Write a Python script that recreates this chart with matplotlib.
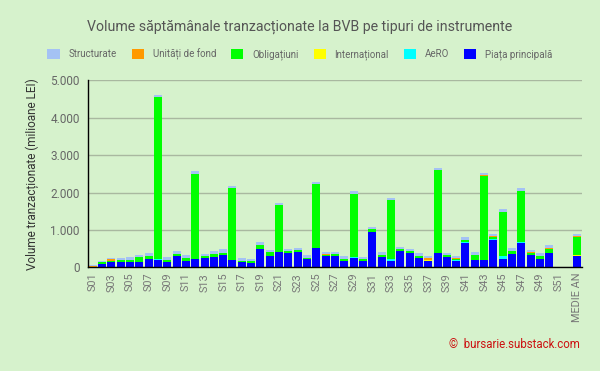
import matplotlib
matplotlib.use("Agg")
import matplotlib.pyplot as plt
from matplotlib.patches import Patch
from matplotlib.ticker import FuncFormatter, MultipleLocator
import numpy as np

plt.rcParams['font.family'] = ['Roboto', 'DejaVu Sans']

categories = [f"S{i:02d}" for i in range(1, 53)] + ["MEDIE AN"]

piata = [10, 100, 150, 150, 150, 150, 230, 195, 150, 310, 180, 230, 260, 275, 330, 195, 145, 115,
         490, 305, 410, 385, 410, 225, 515, 305, 305, 170, 250, 170, 945, 275, 170, 435, 385, 250,
         170, 385, 275, 170, 650, 195, 195, 730, 225, 365, 650, 330, 225, 385, 0, 0, 305]
aero = [0, 0, 0, 0, 0, 0, 0, 15, 0, 0, 0, 0, 0, 0, 0, 0, 0, 0,
        0, 0, 0, 0, 0, 0, 0, 0, 0, 0, 15, 0, 0, 0, 55, 0, 0, 0,
        0, 0, 0, 15, 25, 0, 0, 20, 80, 0, 25, 0, 0, 0, 0, 0, 0]
international = [0, 0, 0, 0, 0, 0, 0, 0, 0, 0, 0, 0, 0, 0, 0, 0, 0, 0,
                 0, 0, 0, 0, 0, 0, 0, 0, 0, 0, 0, 0, 0, 0, 0, 0, 0, 0,
                 15, 0, 0, 0, 0, 10, 0, 0, 0, 0, 0, 0, 0, 0, 0, 0, 15]
obligatiuni = [5, 50, 20, 40, 45, 135, 70, 4355, 45, 55, 80, 2265, 30, 90, 55, 1925, 25, 55,
               110, 105, 1255, 50, 55, 25, 1715, 20, 50, 55, 1695, 55, 80, 55, 1575, 55, 50, 55,
               15, 2215, 55, 30, 55, 125, 2245, 60, 1175, 70, 1355, 55, 80, 105, 0, 0, 485]
unitati = [10, 0, 40, 0, 0, 0, 0, 0, 0, 0, 0, 0, 25, 0, 0, 0, 0, 0,
           0, 0, 0, 0, 0, 0, 0, 35, 0, 0, 0, 0, 0, 0, 0, 0, 0, 0,
           40, 0, 0, 35, 0, 0, 35, 25, 0, 0, 10, 35, 0, 25, 0, 0, 25]
structurate = [25, 20, 40, 50, 80, 45, 85, 55, 80, 70, 70, 80, 50, 70, 105, 55, 80, 55,
               80, 55, 55, 55, 50, 80, 50, 45, 55, 80, 80, 50, 55, 80, 55, 55, 55, 80,
               50, 55, 55, 55, 80, 80, 45, 55, 80, 80, 80, 45, 80, 85, 15, 15, 60]

series = [
    ("Piața principală", piata, "#0000ff"),
    ("AeRO", aero, "#00ffff"),
    ("Internațional", international, "#ffff00"),
    ("Obligațiuni", obligatiuni, "#00ff00"),
    ("Unități de fond", unitati, "#ff9900"),
    ("Structurate", structurate, "#a4c2f4"),
]

bg = "#d6f2cc"
fig = plt.figure(figsize=(6.0, 3.71), dpi=100, facecolor=bg)
ax = fig.add_axes([88/600, 1-267.3/371, 494/600, (267.3-80.3)/371])
ax.set_facecolor(bg)

x = np.arange(len(categories))
bottom = np.zeros(len(categories))
for name, vals, col in series:
    v = np.array(vals, dtype=float)
    ax.bar(x, v, bottom=bottom, width=0.86, color=col, linewidth=0, zorder=3)
    bottom += v

ax.set_xlim(-0.5, len(categories) - 0.5)
ax.set_ylim(0, 5000)
ax.yaxis.set_major_locator(MultipleLocator(1000))
ax.yaxis.set_major_formatter(FuncFormatter(lambda v, p: f"{int(v):,}".replace(",", ".")))
ax.grid(axis='y', color='#a9b8a0', linewidth=1, zorder=0)
for s in ['top', 'right']:
    ax.spines[s].set_visible(False)
for s in ['left', 'bottom']:
    ax.spines[s].set_color('black')
    ax.spines[s].set_linewidth(1)
    ax.spines[s].set_zorder(4)

ax.set_xticks(x[::2])
ax.set_xticklabels(categories[::2], rotation=90, fontsize=7.8, color='#777777')
ax.tick_params(axis='x', length=0, pad=4)
ax.tick_params(axis='y', length=0, pad=6, labelsize=8.5, labelcolor='#666666')
ax.set_ylabel("Volume tranzacționate (milioane LEI)", fontsize=8.5, color='#333333', labelpad=8)

fig.text(300/600, 1-27/371, "Volume săptămânale tranzacționate la BVB pe tipuri de instrumente",
         fontsize=10.2, color='#555555', ha='center', va='center')

handles = [Patch(facecolor=col, edgecolor='none', label=name) for name, _, col in series[::-1]]
fig.legend(handles=handles, loc='center', bbox_to_anchor=(300/600, 1-54/371), ncol=6, frameon=False,
           fontsize=7, labelcolor='#666666', handlelength=1.25, handleheight=1.25,
           handletextpad=0.9, columnspacing=1.55)

fig.text(580/600, 1-345/371, "©  bursarie.substack.com", fontsize=8.3, color='#cc1111',
         ha='right', va='center')

fig.savefig("out.png", dpi=100, facecolor=bg)
